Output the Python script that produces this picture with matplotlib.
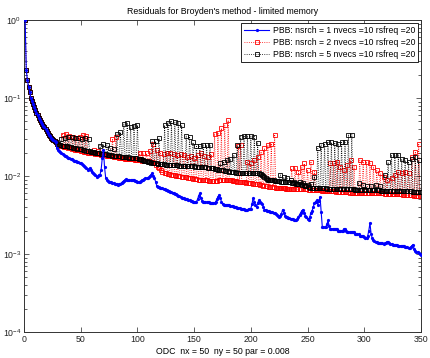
import numpy as np
import matplotlib
matplotlib.use("Agg")
import matplotlib.pyplot as plt
from matplotlib.ticker import LogLocator, NullFormatter

plt.rcParams['font.family'] = ['Liberation Sans', 'DejaVu Sans']
plt.rcParams['mathtext.fontset'] = 'custom'
plt.rcParams['mathtext.rm'] = 'Liberation Sans'
plt.rcParams['mathtext.it'] = 'Liberation Sans:italic'

# residual histories, in units of 1e-4, one value per iteration (1..350)
res_nsrch1 = [
    10000, 2300, 1700, 1400, 1200, 1000, 920, 840, 770, 700,
    650, 600, 560, 520, 490, 460, 440, 420, 400, 380,
    360, 340, 330, 310, 300, 290, 280, 270, 226, 218,
    210, 204, 198, 192, 187, 182, 178, 174, 171, 168,
    166, 164, 162, 158, 156, 154, 153, 150, 147, 145,
    142, 140, 136, 132, 126, 120, 123, 126, 118, 112,
    108, 105, 102, 98, 100, 103, 104, 120, 170, 215,
    130, 95, 89, 87, 85, 84, 83, 82, 81, 80,
    79, 78, 77, 78, 80, 82, 85, 87, 89, 91,
    90, 89, 89, 88, 89, 89, 88, 87, 86, 85,
    85, 85, 86, 88, 90, 92, 93, 93, 94, 96,
    100, 104, 108, 100, 93, 85, 75, 73, 72, 71,
    70, 70, 69, 68, 67, 66, 65, 64, 63, 62,
    61, 60, 59, 58, 57, 56, 55, 54, 53, 52,
    52, 51, 50, 50, 49, 49, 48, 48, 47, 47,
    47, 47, 50, 56, 60, 52, 48, 47, 47, 46,
    46, 46, 46, 45, 45, 45, 45, 45, 47, 50,
    54, 57, 53, 47, 44, 43, 43, 43, 42, 42,
    42, 41, 41, 41, 40, 40, 40, 39, 39, 39,
    38, 38, 38, 38, 37, 37, 37, 38, 38, 38,
    44, 52, 47, 42, 40, 45, 49, 47, 45, 44,
    40, 37, 37, 36, 36, 36, 35, 35, 35, 34,
    34, 33, 32, 31, 30, 31, 33, 37, 34, 31,
    30, 30, 29, 29, 28, 28, 28, 27, 27, 27,
    28, 30, 32, 34, 36, 37, 34, 31, 30, 28,
    27, 30, 34, 36, 40, 45, 47, 49, 43, 48,
    54, 35, 22, 22, 22, 22, 24, 27, 23, 21,
    21, 21, 21, 21, 21, 21, 20, 20, 20, 20,
    20, 21, 21, 20, 19, 19, 19, 19, 19, 19,
    19, 18, 18, 18, 18, 17, 17, 17, 17, 16.5,
    16, 16, 17, 20, 25, 18, 16, 15, 14.5, 14.4,
    14.2, 14, 13.9, 13.8, 13.7, 13.7, 13.6, 13.7, 14, 14.3,
    14.4, 14, 13.5, 13.3, 13.2, 13.1, 13, 13, 12.9, 12.8,
    12.8, 12.8, 12.7, 12.6, 12.5, 12.4, 12.3, 12.2, 12, 12.1,
    12.3, 12.8, 13.2, 11.5, 11, 10.7, 10.5, 10.2, 10, 9.8,
]

res_nsrch2 = [
    10000, 2300, 1700, 1400, 1200, 1000, 920, 840, 770, 700,
    650, 600, 560, 520, 490, 460, 440, 420, 400, 380,
    360, 340, 330, 310, 300, 290, 280, 270, 255, 250,
    247, 244, 242, 340, 238, 236, 345, 232, 230, 330,
    226, 224, 320, 220, 218, 310, 215, 213, 320, 210,
    208, 340, 205, 203, 330, 200, 199, 198, 197, 196,
    195, 215, 193, 192, 210, 190, 189, 188, 187, 186,
    185, 184, 183, 182, 181, 180, 179, 300, 177, 176,
    320, 174, 173, 172, 171, 170, 169, 168, 167, 166,
    166, 165, 165, 164, 164, 163, 163, 162, 162, 161,
    160, 200, 159, 158, 195, 157, 156, 195, 155, 154,
    210, 152, 150, 260, 145, 140, 215, 130, 125, 200,
    118, 114, 190, 110, 108, 195, 106, 105, 200, 104,
    103, 190, 102, 101, 185, 100, 99, 190, 98, 98,
    185, 97, 96, 175, 95, 94, 180, 93, 92, 170,
    91, 91, 185, 90, 90, 200, 89, 89, 180, 88,
    88, 175, 87, 87, 190, 86, 86, 350, 86, 87,
    360, 88, 88, 410, 89, 89, 450, 89, 89, 520,
    89, 88, 88, 87, 87, 86, 86, 85, 240, 85,
    250, 84, 84, 83, 83, 82, 153, 82, 81, 146,
    81, 80, 160, 79, 79, 177, 78, 77, 205, 76,
    75, 226, 74, 74, 250, 73, 73, 260, 72, 72,
    340, 71, 71, 71, 70, 70, 70, 70, 70, 70,
    69, 69, 69, 69, 69, 125, 69, 69, 125, 68,
    68, 114, 68, 68, 132, 68, 145, 68, 68, 120,
    67, 67, 153, 67, 67, 114, 66, 66, 66, 66,
    66, 66, 65, 65, 65, 65, 65, 65, 64, 145,
    64, 64, 145, 64, 63, 153, 63, 63, 132, 63,
    62, 120, 62, 62, 138, 62, 61, 160, 61, 61,
    132, 61, 61, 61, 61, 160, 61, 61, 153, 60,
    60, 153, 60, 60, 145, 60, 60, 132, 60, 60,
    120, 60, 60, 108, 60, 60, 98, 59, 59, 89,
    59, 59, 59, 95, 59, 58, 103, 58, 58, 114,
    58, 58, 108, 57, 57, 114, 57, 57, 108, 57,
    57, 177, 57, 56, 205, 56, 56, 260, 56, 56,
]

res_nsrch5 = [
    10000, 2300, 1700, 1400, 1200, 1000, 920, 840, 770, 700,
    650, 600, 560, 520, 490, 460, 440, 420, 400, 380,
    360, 340, 330, 310, 300, 290, 280, 270, 260, 255,
    252, 250, 300, 246, 244, 310, 241, 239, 315, 236,
    234, 320, 231, 229, 310, 226, 224, 305, 221, 219,
    300, 216, 214, 310, 212, 210, 300, 208, 206, 205,
    203, 201, 200, 198, 197, 195, 245, 193, 192, 255,
    190, 189, 250, 187, 186, 228, 184, 183, 220, 181,
    180, 350, 179, 178, 365, 177, 176, 470, 175, 174,
    480, 173, 172, 430, 171, 170, 440, 169, 168, 450,
    167, 166, 164, 162, 160, 158, 156, 154, 152, 150,
    149, 148, 277, 147, 146, 280, 145, 144, 305, 143,
    142, 141, 141, 450, 140, 140, 480, 139, 139, 500,
    138, 138, 490, 137, 137, 480, 136, 136, 450, 135,
    135, 134, 330, 134, 133, 320, 133, 133, 270, 133,
    132, 240, 132, 131, 240, 131, 130, 250, 130, 129,
    250, 128, 128, 250, 127, 126, 125, 124, 123, 122,
    121, 120, 145, 119, 118, 153, 117, 116, 160, 115,
    114, 164, 113, 112, 186, 111, 110, 250, 109, 109,
    320, 108, 108, 330, 108, 108, 330, 108, 108, 325,
    108, 108, 320, 108, 108, 265, 108, 107, 105, 102,
    99, 96, 93, 91, 89, 89, 89, 88, 88, 88,
    87, 87, 87, 86, 86, 103, 85, 85, 97, 84,
    84, 93, 83, 83, 89, 82, 82, 85, 81, 80,
    80, 79, 83, 78, 77, 81, 76, 75, 74, 77,
    72, 71, 80, 70, 70, 98, 70, 70, 226, 70,
    70, 250, 70, 70, 260, 70, 69, 270, 69, 69,
    270, 69, 69, 268, 69, 69, 260, 69, 69, 270,
    68, 68, 270, 68, 68, 340, 68, 68, 340, 68,
    68, 67, 67, 67, 81, 67, 67, 67, 76, 66,
    66, 74, 66, 66, 66, 74, 66, 66, 66, 77,
    66, 66, 66, 74, 65, 65, 65, 103, 65, 65,
    150, 65, 65, 186, 65, 65, 186, 64, 64, 186,
    64, 64, 165, 64, 64, 160, 64, 64, 153, 64,
    64, 165, 63, 63, 177, 63, 63, 160, 63, 63,
]

labels = [
    'PBB: nsrch = 1 nvecs =10 rsfreq =20',
    'PBB: nsrch = 2 nvecs =10 rsfreq =20',
    'PBB: nsrch = 5 nvecs =10 rsfreq =20',
]

unit = 1e-4

fig = plt.figure(figsize=(4.30, 3.58), dpi=100)
ax = fig.add_axes([24 / 430, 1 - 332 / 358, 397 / 430, 312 / 358])

it1 = np.arange(1, len(res_nsrch1) + 1)
it2 = np.arange(1, len(res_nsrch2) + 1)
it5 = np.arange(1, len(res_nsrch5) + 1)

# draw order: red, black, blue on top
ax.semilogy(it2, np.array(res_nsrch2) * unit, color='red', linestyle=':',
            linewidth=0.6, marker='s', markersize=2.6, markerfacecolor='none',
            markeredgewidth=0.6, label=labels[1], zorder=2)
ax.semilogy(it5, np.array(res_nsrch5) * unit, color='black', linestyle=':',
            linewidth=0.6, marker='s', markersize=2.6, markerfacecolor='none',
            markeredgewidth=0.6, label=labels[2], zorder=3)
ax.semilogy(it1, np.array(res_nsrch1) * unit, color='blue', linestyle='-',
            linewidth=0.8, marker='.', markersize=2.6, label=labels[0], zorder=4)

ax.set_xlim(0, 350)
ax.set_ylim(1e-4, 1)
ax.set_xticks(np.arange(0, 351, 50))
ax.yaxis.set_major_locator(LogLocator(base=10, numticks=10))
ax.yaxis.set_minor_locator(LogLocator(base=10, subs=np.arange(2, 10), numticks=10))
ax.yaxis.set_minor_formatter(NullFormatter())

ax.tick_params(which='both', direction='in', top=True, right=True,
               labelsize=6.3, width=0.5, colors='#222222', pad=2)
ax.tick_params(which='major', length=3.5)
ax.tick_params(which='minor', length=2)
for sp in ax.spines.values():
    sp.set_linewidth(0.7)
    sp.set_color('#333333')

ax.set_title("Residuals for Broyden's method - limited memory", fontsize=6.3, pad=4)
ax.set_xlabel('ODC  nx = 50  ny = 50 par = 0.008', fontsize=6.3, labelpad=2)

handles, labs = ax.get_legend_handles_labels()
order = [2, 0, 1]
leg = ax.legend([handles[i] for i in order], [labs[i] for i in order],
                loc='upper right', fontsize=6.2, fancybox=False,
                edgecolor='black', framealpha=1, borderpad=0.35,
                labelspacing=0.35, handlelength=3.0, handletextpad=0.4,
                borderaxespad=0.3)
leg.get_frame().set_linewidth(0.6)

fig.savefig('out.png', dpi=100)
